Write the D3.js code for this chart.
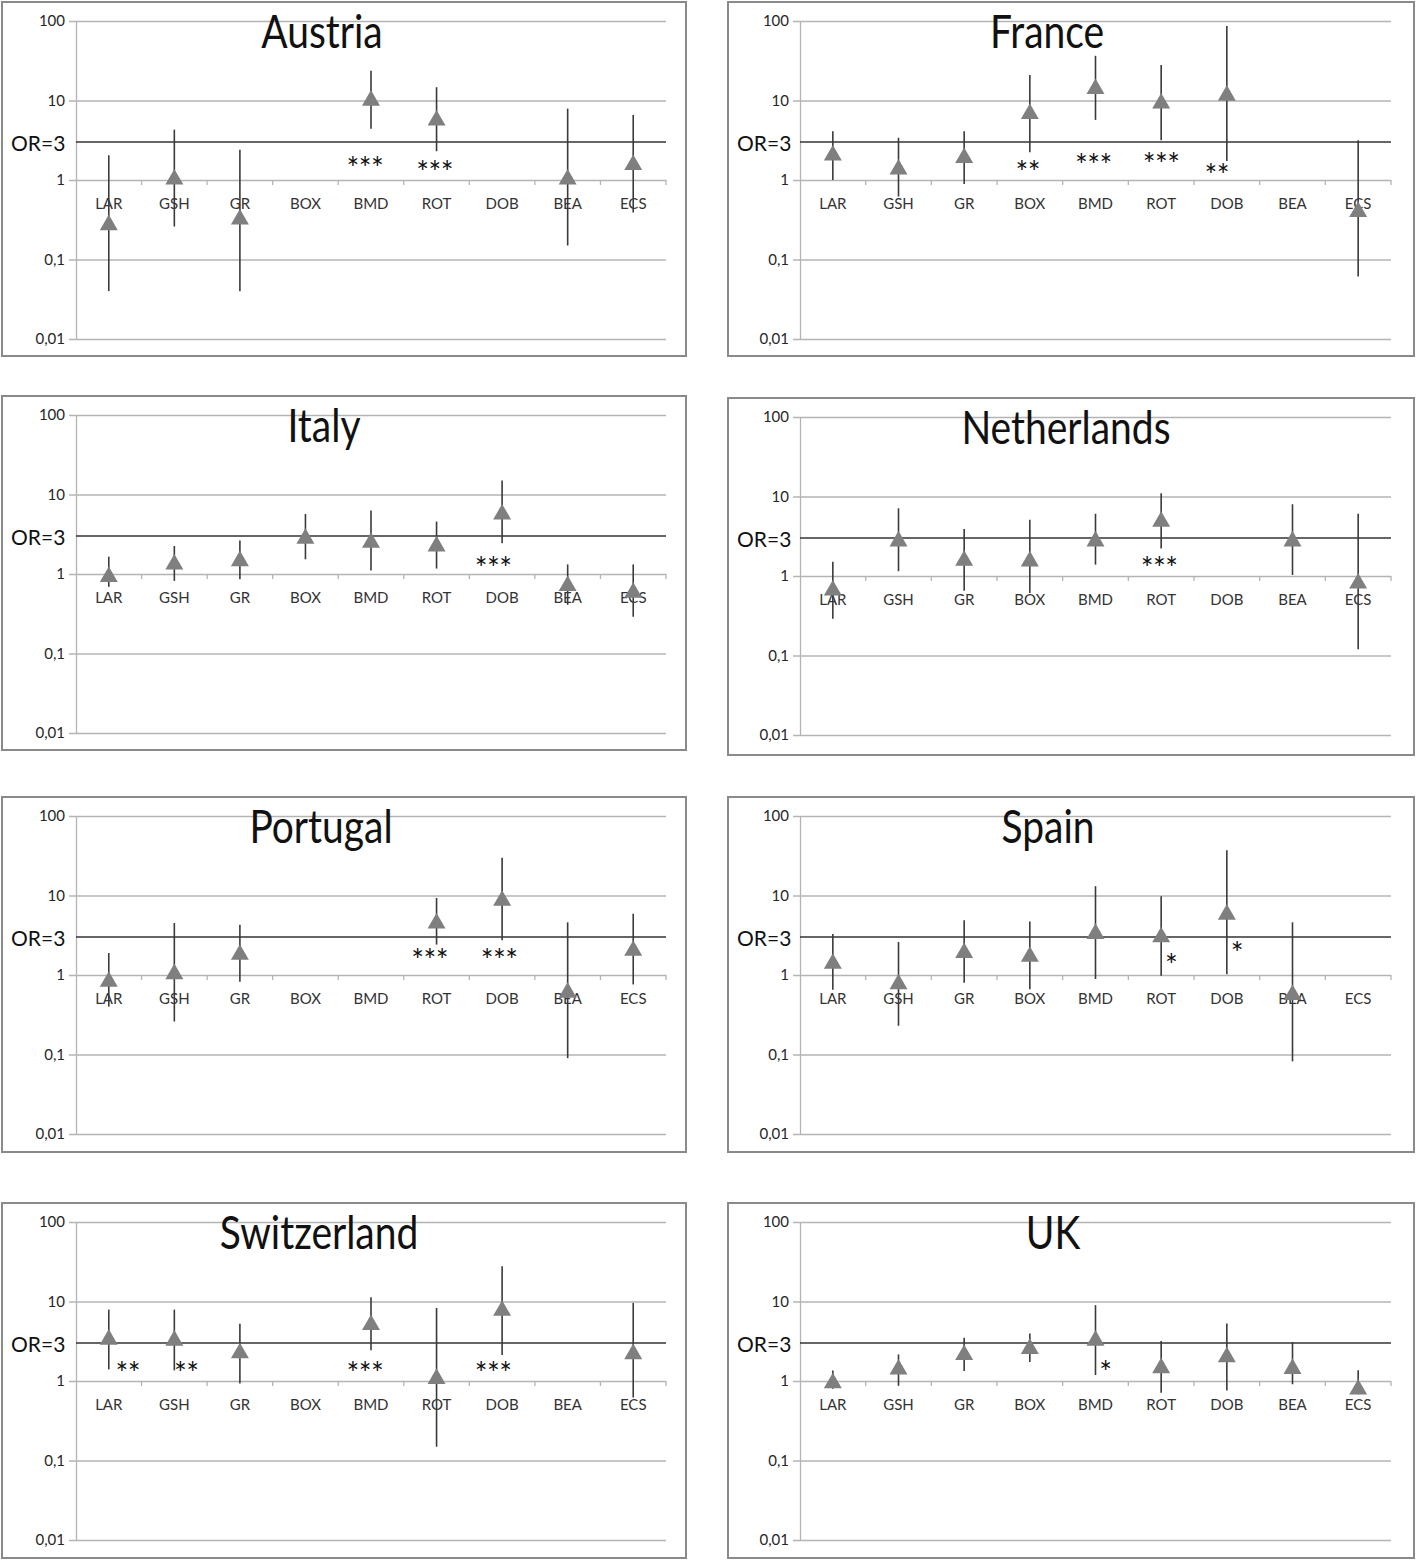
<!DOCTYPE html>
<html>
<head>
  <meta charset="UTF-8">
  <style>
    body { margin: 0; background-color: white; }
    text { font-family: Lato, "Open Sans", sans-serif; }
  </style>
</head>
<body>
<svg></svg>
<script src="https://cdnjs.cloudflare.com/ajax/libs/d3/7.8.5/d3.min.js"></script>
<script>

let width = 1418, height = 1562;

// categories on the x axis
const categories = ["LAR", "GSH", "GR", "BOX", "BMD", "ROT", "DOB", "BEA", "ECS"];
const yTicks = [0.01, 0.1, 1, 10, 100];
const refOR = 3;

// odds ratios, lower and upper CI per country (null = not shown)
const orAustria = [0.28, 1.05, 0.33, null, 10.3, 5.8, null, 1.05, 1.6];
const loAustria = [0.040, 0.26, 0.040, null, 4.4, 2.3, null, 0.15, 0.39];
const hiAustria = [2.05, 4.3, 2.4, null, 23.7, 14.7, null, 7.9, 6.6];
const sigAustria = ["", "", "", "", "***", "***", "", "", ""];

const orFrance = [2.1, 1.4, 1.96, 7.0, 14.4, 9.5, 11.9, null, 0.41];
const loFrance = [1.0, 0.62, 0.89, 2.24, 5.7, 3.16, 1.73, null, 0.061];
const hiFrance = [4.1, 3.4, 4.1, 21, 36.5, 27.9, 86.6, null, 3.16];
const sigFrance = ["", "", "", "**", "***", "***", "**", "", ""];

const orItaly = [0.95, 1.36, 1.5, 2.87, 2.56, 2.3, 5.8, 0.73, 0.6];
const loItaly = [0.69, 0.82, 0.86, 1.53, 1.11, 1.17, 2.44, 0.41, 0.29];
const hiItaly = [1.65, 2.25, 2.63, 5.7, 6.3, 4.57, 15, 1.32, 1.32];
const sigItaly = ["", "", "", "", "", "", "***", "", ""];

const orNetherlands = [0.68, 2.82, 1.61, 1.58, 2.82, 4.97, null, 2.82, 0.83];
const loNetherlands = [0.29, 1.15, 0.65, 0.61, 1.39, 2.22, null, 1.03, 0.12];
const hiNetherlands = [1.51, 7.1, 3.9, 5.1, 6.07, 11, null, 8.0, 6.07];
const sigNetherlands = ["", "", "", "", "", "***", "", "", ""];

const orPortugal = [0.85, 1.06, 1.86, null, null, 4.6, 8.9, 0.62, 2.09];
const loPortugal = [0.40, 0.26, 0.82, null, null, 2.41, 2.73, 0.09, 0.76];
const hiPortugal = [1.89, 4.5, 4.3, null, null, 9.3, 29.9, 4.6, 5.9];
const sigPortugal = ["", "", "", "", "", "***", "***", "", ""];

const orSpain = [1.43, 0.79, 1.96, 1.75, 3.4, 3.09, 5.94, 0.58, null];
const loSpain = [0.65, 0.23, 0.8, 0.66, 0.89, 0.98, 1.02, 0.082, null];
const hiSpain = [3.27, 2.6, 4.9, 4.7, 13.1, 9.8, 37, 4.6, null];
const sigSpain = ["", "", "", "", "", "*", "*", "", ""];

const orSwitzerland = [3.43, 3.33, 2.31, null, 5.24, 1.1, 7.9, null, 2.25];
const loSwitzerland = [1.4, 1.36, 0.93, null, 2.43, 0.149, 2.12, null, 0.62];
const hiSwitzerland = [7.9, 7.9, 5.24, null, 11.3, 8.3, 27.8, null, 9.6];
const sigSwitzerland = ["**", "**", "", "", "***", "", "***", "", ""];

const orUK = [0.97, 1.44, 2.2, 2.62, 3.33, 1.5, 2.06, 1.47, 0.81];
const loUK = [0.8, 0.87, 1.34, 1.73, 1.19, 0.71, 0.76, 0.91, 0.68];
const hiUK = [1.36, 2.16, 3.5, 3.97, 9.0, 3.18, 5.3, 3.09, 1.37];
const sigUK = ["", "", "", "", "*", "", "", "", ""];

// panel frames [x, y, w, h] and title centre x
const panels = [
  { name: "Austria", or: orAustria, lo: loAustria, hi: hiAustria, sig: sigAustria, frame: [2, 2, 684, 354], col: 0, tx: 322 },
  { name: "France", or: orFrance, lo: loFrance, hi: hiFrance, sig: sigFrance, frame: [728, 2, 686, 354], col: 1, tx: 1047 },
  { name: "Italy", or: orItaly, lo: loItaly, hi: hiItaly, sig: sigItaly, frame: [2, 396, 684, 354], col: 0, tx: 324 },
  { name: "Netherlands", or: orNetherlands, lo: loNetherlands, hi: hiNetherlands, sig: sigNetherlands, frame: [728, 398, 686, 357], col: 1, tx: 1066 },
  { name: "Portugal", or: orPortugal, lo: loPortugal, hi: hiPortugal, sig: sigPortugal, frame: [2, 797, 684, 355], col: 0, tx: 321 },
  { name: "Spain", or: orSpain, lo: loSpain, hi: hiSpain, sig: sigSpain, frame: [728, 797, 686, 355], col: 1, tx: 1048 },
  { name: "Switzerland", or: orSwitzerland, lo: loSwitzerland, hi: hiSwitzerland, sig: sigSwitzerland, frame: [2, 1203, 684, 355], col: 0, tx: 319 },
  { name: "UK", or: orUK, lo: loUK, hi: hiUK, sig: sigUK, frame: [728, 1203, 686, 355], col: 1, tx: 1053 }
];

// where the asterisks sit: [level on the OR scale, x shift]
const starPos = {
  "Austria-BMD": [1.68, -6], "Austria-ROT": [1.5, -2],
  "France-BOX": [1.5, -2], "France-BMD": [1.84, -2], "France-ROT": [1.89, 0], "France-DOB": [1.36, -10],
  "Italy-DOB": [1.4, -9],
  "Netherlands-ROT": [1.5, -2],
  "Portugal-ROT": [1.84, -7], "Portugal-DOB": [1.84, -3],
  "Spain-ROT": [1.59, 10], "Spain-DOB": [2.25, 10],
  "Switzerland-LAR": [1.5, 19], "Switzerland-GSH": [1.5, 12], "Switzerland-BMD": [1.5, -6], "Switzerland-DOB": [1.5, -9],
  "UK-BMD": [1.54, 10]
};

let svg = d3.select("svg")
    .attr("width", width)
    .attr("height", height);

svg.append("rect").attr("width", width).attr("height", height).attr("fill", "white");

const tickFmt = d => String(d).replace(".", ",");
const tri = d3.symbol().type(d3.symbolTriangle).size(140);

panels.forEach(p => {
    let [fx, fy, fw, fh] = p.frame;
    let left = fx + (p.col === 0 ? 74 : 72);
    let right = fx + fw - (p.col === 0 ? 20 : 23);
    let top = fy + 19, bottom = fy + 337;

    let x = d3.scaleBand().domain(categories).range([left, right]);
    let y = d3.scaleLog().domain([0.01, 100]).range([bottom, top]);

    let g = svg.append("g");

    // frame
    g.append("rect")
        .attr("x", fx).attr("y", fy)
        .attr("width", fw).attr("height", fh)
        .attr("fill", "none")
        .attr("stroke", "#8a8a8a")
        .attr("stroke-width", 2);

    // y axis with gridlines
    let yAxis = d3.axisLeft(y).tickValues(yTicks).tickFormat(tickFmt)
        .tickSize(-(right - left)).tickSizeOuter(0).tickPadding(11);
    let ya = g.append("g").attr("transform", `translate(${left},0)`).call(yAxis);
    ya.select(".domain").attr("stroke", "#b4b4b4").attr("stroke-width", 1.3);
    ya.selectAll(".tick line").attr("stroke", "#b4b4b4").attr("stroke-width", 1.3).attr("x1", -7);
    ya.selectAll(".tick text").attr("font-size", 15).attr("fill", "#262626");

    // category axis along OR = 1
    let xAxis = d3.axisBottom(x).tickSize(0).tickPadding(18);
    let xa = g.append("g").attr("transform", `translate(0,${y(1)})`).call(xAxis);
    xa.select(".domain").remove();
    xa.selectAll(".tick text").attr("font-size", 15).attr("fill", "#333");
    g.selectAll(".xt")
        .data(categories)
        .enter().append("line")
        .attr("x1", d => x(d) + x.bandwidth()).attr("x2", d => x(d) + x.bandwidth())
        .attr("y1", y(1)).attr("y2", y(1) + 5)
        .attr("stroke", "#b4b4b4").attr("stroke-width", 1.3);

    // OR = 3 reference line
    g.append("line")
        .attr("x1", left).attr("x2", right)
        .attr("y1", y(refOR)).attr("y2", y(refOR))
        .attr("stroke", "#333").attr("stroke-width", 1.6);
    g.append("text")
        .attr("x", fx + 9).attr("y", y(refOR))
        .attr("dominant-baseline", "central")
        .attr("font-size", 21).attr("fill", "#111")
        .text("OR=" + refOR);

    // title
    g.append("text")
        .attr("transform", `translate(${p.tx},${fy + 46}) scale(1,1.18)`)
        .attr("text-anchor", "middle")
        .attr("font-size", 39).attr("fill", "#111")
        .text(p.name);

    let rows = categories.map((c, i) => ({ cat: c, or: p.or[i], lo: p.lo[i], hi: p.hi[i], sig: p.sig[i] }))
        .filter(d => d.or !== null);

    // error bars
    g.selectAll(".err")
        .data(rows)
        .enter().append("line")
        .attr("x1", d => x(d.cat) + x.bandwidth() / 2)
        .attr("x2", d => x(d.cat) + x.bandwidth() / 2)
        .attr("y1", d => y(d.lo)).attr("y2", d => y(d.hi))
        .attr("stroke", "#3a3a3a").attr("stroke-width", 1.6);

    // triangle markers
    g.selectAll(".mark")
        .data(rows)
        .enter().append("path")
        .attr("d", tri)
        .attr("transform", d => `translate(${x(d.cat) + x.bandwidth() / 2},${y(d.or) + 1})`)
        .attr("fill", "#7f7f7f");

    // significance stars
    let sigRows = categories.map((c, i) => ({ cat: c, sig: p.sig[i] })).filter(d => d.sig !== "");
    g.selectAll(".sig")
        .data(sigRows)
        .enter().append("text")
        .attr("x", d => x(d.cat) + x.bandwidth() / 2 + starPos[p.name + "-" + d.cat][1])
        .attr("y", d => y(starPos[p.name + "-" + d.cat][0]) + 17)
        .attr("text-anchor", "middle")
        .attr("font-size", 30).attr("letter-spacing", -0.5).attr("fill", "#111")
        .text(d => d.sig);
});

</script>
</body>
</html>
